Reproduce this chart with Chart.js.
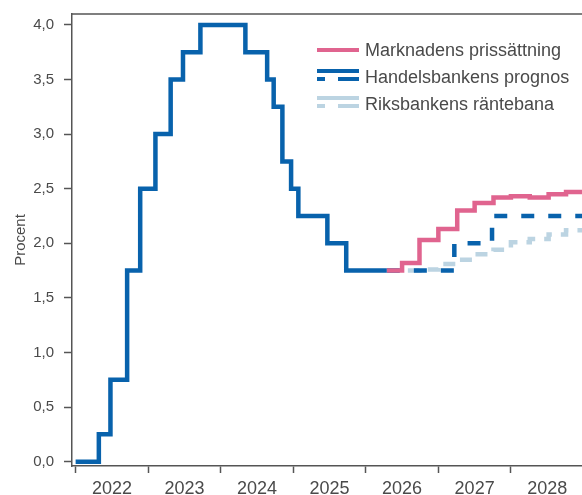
<!DOCTYPE html>
<html>
<head>
<meta charset="utf-8">
<script src="https://cdn.jsdelivr.net/npm/chart.js@4"></script>
<style>
  body { margin: 0; background: #fff; }
  #wrap { position: relative; width: 582px; height: 495px; }
  #legend { position: absolute; left: 317px; top: 37px; font: 18px "Liberation Sans", Arial, sans-serif; color: #4a4a4a; }
  #legend .row { display: flex; align-items: flex-start; height: 27px; line-height: 27px; white-space: nowrap; }
  #legend svg { width: 42px; height: 27px; margin-right: 6px; flex: none; }
</style>
</head>
<body>
<div id="wrap">
  <canvas id="chart" width="582" height="495"></canvas>
  <div id="legend"></div>
</div>
<script>
// policy rate history (decimal year of each change, new rate)
const histDates = [2022.0, 2022.32, 2022.48, 2022.71, 2022.89, 2023.10, 2023.31, 2023.48, 2023.72,
  2024.34, 2024.64, 2024.73, 2024.85, 2024.97, 2025.07, 2025.47, 2025.73, 2026.29];
const histRates = [0, 0.25, 0.75, 1.75, 2.5, 3.0, 3.5, 3.75, 4.0,
  3.75, 3.5, 3.25, 2.75, 2.5, 2.25, 2.0, 1.75, 1.75];

// forecasts
const forecastDates = [2026.29, 2026.50, 2026.74, 2027.00, 2027.26, 2027.50, 2027.76, 2028.00, 2028.26, 2028.52, 2028.76, 2029.0];
const marketRates = [1.75, 1.82, 2.03, 2.13, 2.30, 2.37, 2.42, 2.43, 2.42, 2.45, 2.47, 2.47];
const riksbankRates = [1.75, 1.75, 1.76, 1.81, 1.85, 1.90, 1.94, 2.01, 2.04, 2.08, 2.12, 2.12];
const shbDates = [2026.29, 2027.22, 2027.74, 2029.0];
const shbRates = [1.75, 2.0, 2.25, 2.25];

const seriesLabels = ['Marknadens prissättning', 'Handelsbankens prognos', 'Riksbankens räntebana'];
const yearTicks = [2022, 2023, 2024, 2025, 2026, 2027, 2028];
const yTicks = [0, 0.5, 1, 1.5, 2, 2.5, 3, 3.5, 4];

const BLUE = '#0862ac';
const PINK = '#e0648f';
const LIGHT = '#bcd4e2';
const AXIS = '#555';
const TEXT = '#4a4a4a';

const pts = (xs, ys) => xs.map((x, i) => ({ x: x, y: ys[i] }));

// frame line along the top of the plot
const topBorder = {
  id: 'topBorder',
  afterDraw(chart) {
    const a = chart.chartArea, ctx = chart.ctx;
    ctx.save();
    ctx.strokeStyle = AXIS;
    ctx.lineWidth = 1.5;
    ctx.beginPath();
    ctx.moveTo(a.left, a.top);
    ctx.lineTo(a.right, a.top);
    ctx.stroke();
    ctx.restore();
  }
};

const common = { stepped: 'before', pointRadius: 0, borderWidth: 4.5, fill: false, borderJoinStyle: 'miter' };

new Chart(document.getElementById('chart'), {
  type: 'line',
  data: {
    datasets: [
      { ...common, label: seriesLabels[0], data: pts(forecastDates, marketRates), borderColor: PINK },
      { ...common, label: 'Styrränta', data: pts(histDates, histRates), borderColor: BLUE },
      { ...common, label: seriesLabels[1], data: pts(shbDates, shbRates), borderColor: BLUE, borderDash: [13, 14] },
      { ...common, label: seriesLabels[2], data: pts(forecastDates, riksbankRates), borderColor: LIGHT, borderDash: [12, 9] }
    ]
  },
  options: {
    responsive: false,
    animation: false,
    layout: { padding: { top: 14, right: 0, bottom: 0, left: 0 } },
    plugins: { legend: { display: false }, tooltip: { enabled: false } },
    scales: {
      x: {
        type: 'linear',
        min: 2021.95,
        max: 2028.98,
        afterBuildTicks: (s) => {
          const t = [];
          yearTicks.forEach(y => { t.push({ value: y }); t.push({ value: y + 0.5 }); });
          s.ticks = t;
        },
        afterFit: (s) => { s.height = 29; s.paddingLeft = 0; s.paddingRight = 0; },
        grid: {
          drawOnChartArea: false,
          tickLength: 7,
          tickWidth: 1.5,
          tickColor: (c) => (c.tick && c.tick.value % 1 === 0) ? AXIS : 'rgba(0,0,0,0)'
        },
        border: { color: AXIS, width: 1.5 },
        ticks: {
          autoSkip: false,
          maxRotation: 0,
          padding: 5,
          color: TEXT,
          font: { family: 'Liberation Sans', size: 18 },
          callback: (v) => (v % 1 === 0) ? '' : String(Math.floor(v))
        }
      },
      y: {
        min: -0.04,
        max: 4.1,
        afterBuildTicks: (s) => { s.ticks = yTicks.map(v => ({ value: v })); },
        afterFit: (s) => { s.width = 72; s.paddingTop = 0; s.paddingBottom = 0; },
        grid: { drawOnChartArea: false, tickLength: 8, tickWidth: 1.5, tickColor: AXIS },
        border: { color: AXIS, width: 1.5 },
        ticks: {
          padding: 10,
          color: TEXT,
          font: { family: 'Liberation Sans', size: 15 },
          callback: (v) => v.toFixed(1).replace('.', ',')
        },
        title: {
          display: true,
          text: 'Procent',
          color: TEXT,
          font: { family: 'Liberation Sans', size: 15 },
          padding: { top: 12, bottom: 0 }
        }
      }
    }
  },
  plugins: [topBorder]
});

// legend as html over the plot
const legendItems = [
  { label: seriesLabels[0], color: PINK, dashed: false },
  { label: seriesLabels[1], color: BLUE, dashed: true },
  { label: seriesLabels[2], color: LIGHT, dashed: true }
];
const legend = document.getElementById('legend');
legendItems.forEach(it => {
  const row = document.createElement('div');
  row.className = 'row';
  const svg = it.dashed
    ? `<svg viewBox="0 0 42 27"><line x1="0" y1="7" x2="42" y2="7" stroke="${it.color}" stroke-width="4"/>` +
      `<line x1="0" y1="15" x2="42" y2="15" stroke="${it.color}" stroke-width="4" stroke-dasharray="8 13 21"/></svg>`
    : `<svg viewBox="0 0 42 27"><line x1="0" y1="13" x2="42" y2="13" stroke="${it.color}" stroke-width="4"/></svg>`;
  row.innerHTML = svg + '<span>' + it.label + '</span>';
  legend.appendChild(row);
});
</script>
</body>
</html>
